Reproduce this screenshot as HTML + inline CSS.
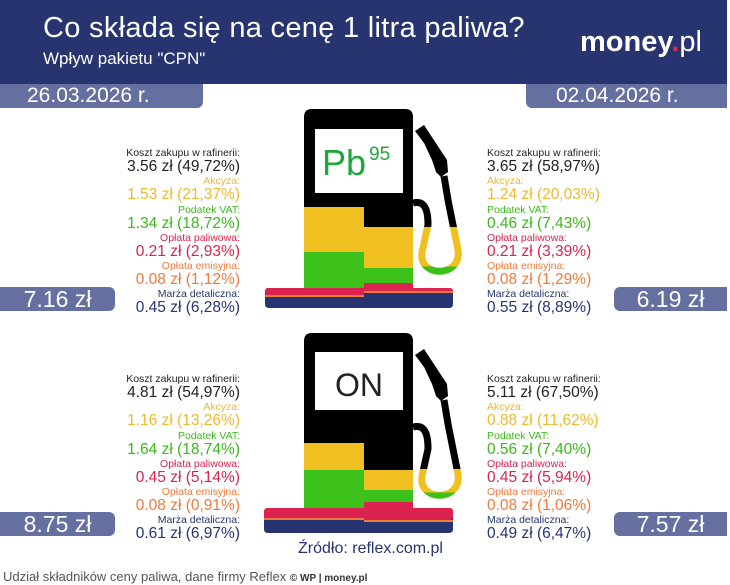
<!DOCTYPE html>
<html><head><meta charset="utf-8"><style>
body{margin:0;width:730px;height:585px;background:#fff;position:relative;overflow:hidden;font-family:"Liberation Sans",sans-serif}
.a{position:absolute;white-space:nowrap}
.hdr{left:0;top:0;width:727px;height:84px;background:#27346f}
.bar{background:#6670a0;color:#fff;height:24px;line-height:24px;font-size:21px}
.blk{position:absolute;width:130px}
.blk div{line-height:14px}
.l{font-size:10.5px;margin-top:0}
.v{font-size:15.5px;margin-bottom:0;height:14.3px}
.L{text-align:right}
.k{color:#222}.y{color:#f0b82c}.g{color:#3cb81a}.p{color:#d8254f}.o{color:#f07a3a}.n{color:#27346f}
</style></head><body>
<div class="a hdr"></div>
<div class="a" style="left:43px;top:12px;color:#fff;font-size:29px;letter-spacing:0.3px">Co składa się na cenę 1 litra paliwa?</div>
<div class="a" style="left:43px;top:49px;color:#fff;font-size:17px">Wpływ pakietu "CPN"</div>
<div class="a" style="left:580px;top:26px;color:#fff;font-size:29px;font-weight:bold">money<span style="color:#e2264d">.</span><span style="font-weight:normal">pl</span></div>
<div class="a bar" style="left:0;top:84px;width:203px;border-radius:0 0 6px 0;"><span style="padding-left:27px">26.03.2026 r.</span></div>
<div class="a bar" style="left:526px;top:84px;width:201px;border-radius:0 0 0 6px;"><span style="padding-left:30px">02.04.2026 r.</span></div>

<div class="a bar" style="left:0;top:287px;width:115px;border-radius:0 6px 6px 0;font-size:23px;text-align:center">7.16 zł</div>
<div class="a bar" style="left:614px;top:287px;width:113px;border-radius:6px 0 0 6px;font-size:23px;text-align:center">6.19 zł</div>
<div class="a bar" style="left:0;top:512px;width:115px;border-radius:0 6px 6px 0;font-size:23px;text-align:center">8.75 zł</div>
<div class="a bar" style="left:614px;top:512px;width:113px;border-radius:6px 0 0 6px;font-size:23px;text-align:center">7.57 zł</div>

<div class="blk L" style="left:110px;top:146px">
<div class="l k">Koszt zakupu w rafinerii:</div><div class="v k">3.56 zł (49,72%)</div>
<div class="l y">Akcyza:</div><div class="v y">1.53 zł (21,37%)</div>
<div class="l g">Podatek VAT:</div><div class="v g">1.34 zł (18,72%)</div>
<div class="l p">Opłata paliwowa:</div><div class="v p">0.21 zł (2,93%)</div>
<div class="l o">Opłata emisyjna:</div><div class="v o">0.08 zł (1,12%)</div>
<div class="l n">Marża detaliczna:</div><div class="v n">0.45 zł (6,28%)</div>
</div>
<div class="blk" style="left:487px;top:146px">
<div class="l k">Koszt zakupu w rafinerii:</div><div class="v k">3.65 zł (58,97%)</div>
<div class="l y">Akcyza:</div><div class="v y">1.24 zł (20,03%)</div>
<div class="l g">Podatek VAT:</div><div class="v g">0.46 zł (7,43%)</div>
<div class="l p">Opłata paliwowa:</div><div class="v p">0.21 zł (3,39%)</div>
<div class="l o">Opłata emisyjna:</div><div class="v o">0.08 zł (1,29%)</div>
<div class="l n">Marża detaliczna:</div><div class="v n">0.55 zł (8,89%)</div>
</div>
<div class="blk L" style="left:110px;top:372px">
<div class="l k">Koszt zakupu w rafinerii:</div><div class="v k">4.81 zł (54,97%)</div>
<div class="l y">Akcyza:</div><div class="v y">1.16 zł (13,26%)</div>
<div class="l g">Podatek VAT:</div><div class="v g">1.64 zł (18,74%)</div>
<div class="l p">Opłata paliwowa:</div><div class="v p">0.45 zł (5,14%)</div>
<div class="l o">Opłata emisyjna:</div><div class="v o">0.08 zł (0,91%)</div>
<div class="l n">Marża detaliczna:</div><div class="v n">0.61 zł (6,97%)</div>
</div>
<div class="blk" style="left:487px;top:372px">
<div class="l k">Koszt zakupu w rafinerii:</div><div class="v k">5.11 zł (67,50%)</div>
<div class="l y">Akcyza:</div><div class="v y">0.88 zł (11,62%)</div>
<div class="l g">Podatek VAT:</div><div class="v g">0.56 zł (7,40%)</div>
<div class="l p">Opłata paliwowa:</div><div class="v p">0.45 zł (5,94%)</div>
<div class="l o">Opłata emisyjna:</div><div class="v o">0.08 zł (1,06%)</div>
<div class="l n">Marża detaliczna:</div><div class="v n">0.49 zł (6,47%)</div>
</div>

<svg class="a" style="left:0;top:0" width="730" height="585">
<defs>
<linearGradient id="h1" gradientUnits="userSpaceOnUse" x1="0" y1="110" x2="0" y2="290">
<stop offset="0.65" stop-color="#000"/><stop offset="0.65" stop-color="#f0c020"/><stop offset="0.87" stop-color="#f0c020"/><stop offset="0.87" stop-color="#3cc01a"/></linearGradient>
<linearGradient id="h2" gradientUnits="userSpaceOnUse" x1="0" y1="110" x2="0" y2="290">
<stop offset="0.75" stop-color="#000"/><stop offset="0.75" stop-color="#f0c020"/><stop offset="0.88" stop-color="#f0c020"/><stop offset="0.88" stop-color="#3cc01a"/></linearGradient>
<g id="noz">
<polygon points="415,131 424,125 447,160 448,172 441,177 436,172 432,160 424,143" fill="#000"/>
</g>
</defs>
<path d="M304 117 Q304 109 312 109 L405 109 Q413 109 413 117 L413 288 L304 288Z" fill="#000"/>
<rect x="315" y="129" width="88" height="64" fill="#fff"/>
<text x="322" y="175" font-size="36" fill="#1fa63c" font-family="Liberation Sans">Pb</text>
<text x="369" y="160" font-size="19" fill="#1fa63c" font-family="Liberation Sans">95</text>
<rect x="304" y="207" width="60" height="45" fill="#f0c020"/>
<rect x="304" y="252" width="60" height="37" fill="#3cc01a"/>
<rect x="364" y="227" width="49" height="41" fill="#f0c020"/>
<rect x="364" y="268" width="49" height="15" fill="#3cc01a"/>
<rect x="364" y="283" width="49" height="6" fill="#dc2350"/>
<path d="M265 292 Q265 288 269 288 L449 288 Q453 288 453 292 L453 304 Q453 308 449 308 L269 308 Q265 308 265 304Z" fill="#27346f"/>
<rect x="265" y="288" width="188" height="8" rx="3" fill="#dc2350"/>
<rect x="265" y="295" width="99" height="2" fill="#f07a3a"/>
<rect x="364" y="291" width="89" height="2" fill="#f07a3a"/>
<rect x="364" y="293" width="89" height="3" fill="#27346f"/>
<use href="#noz"/>
<path d="M413 203 C425 200 428 210 428 225 L422 252 C418 278 462 278 458 250 L448 200 L444 176" fill="none" stroke="url(#h1)" stroke-width="7"/>
<path d="M304 341 Q304 333 312 333 L405 333 Q413 333 413 341 L413 512 L304 512Z" fill="#000"/>
<rect x="315" y="352" width="88" height="58" fill="#fff"/>
<text x="359" y="396" font-size="32" fill="#222" text-anchor="middle" font-family="Liberation Sans">ON</text>
<rect x="304" y="443" width="60" height="27" fill="#f0c020"/>
<rect x="304" y="470" width="60" height="39" fill="#3cc01a"/>
<rect x="364" y="470" width="49" height="20" fill="#f0c020"/>
<rect x="364" y="490" width="49" height="12" fill="#3cc01a"/>
<rect x="364" y="502" width="49" height="10" fill="#dc2350"/>
<path d="M264 516 Q264 512 268 512 L449 512 Q453 512 453 516 L453 529 Q453 533 449 533 L268 533 Q264 533 264 529Z" fill="#27346f"/>
<rect x="264" y="508" width="189" height="12" rx="3" fill="#dc2350"/>
<rect x="264" y="518" width="100" height="2" fill="#f07a3a"/>
<rect x="364" y="520" width="89" height="2" fill="#f07a3a"/>
<g transform="translate(0,224)"><use href="#noz"/>
<path d="M413 203 C425 200 428 210 428 225 L422 252 C418 278 462 278 458 250 L448 200 L444 176" fill="none" stroke="url(#h2)" stroke-width="7"/></g>
</svg>
<div class="a" style="left:298px;top:540px;color:#27346f;font-size:16px">Źródło: reflex.com.pl</div>
<div class="a" style="left:3px;top:569px;color:#555;font-size:13px">Udział składników ceny paliwa, dane firmy Reflex <span style="font-size:10px;font-weight:bold;color:#333">© WP | money.pl</span></div>
</body></html>
